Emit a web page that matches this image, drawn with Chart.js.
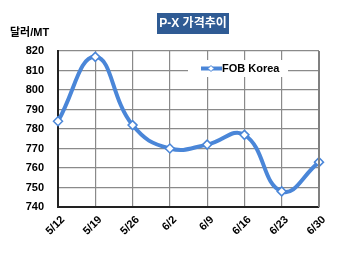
<!DOCTYPE html>
<html>
<head>
<meta charset="utf-8">
<script src="https://cdn.jsdelivr.net/npm/chart.js@4"></script>
<style>
  html, body { margin: 0; padding: 0; background: #fff; }
  #wrap { width: 350px; height: 257px; }
</style>
</head>
<body>
<div id="wrap"><canvas id="c" width="350" height="257"></canvas></div>
<script>
// 데이터
const weeks = ['5/12', '5/19', '5/26', '6/2', '6/9', '6/16', '6/23', '6/30'];
const fobKorea = [784, 817, 782, 770, 772, 777, 748, 763];
const yTicks = [740, 750, 760, 770, 780, 790, 800, 810, 820];

const lineColor = '#4a86d8';
const fontMain = 'Arial, "Liberation Sans", "Noto Sans CJK KR", sans-serif';

// 제목, 단위, 범례, x축 라벨 그리기
const decor = {
    id: 'decor',
    afterDraw(chart) {
        const ctx = chart.ctx;
        const area = chart.chartArea;
        const xs = chart.scales.x;
        ctx.save();
        // 제목 박스
        ctx.fillStyle = '#2f5b94';
        ctx.fillRect(157, 13, 72, 21);
        ctx.fillStyle = '#fff';
        ctx.font = 'bold 12px ' + fontMain;
        ctx.textAlign = 'center';
        ctx.textBaseline = 'middle';
        ctx.fillText('P-X 가격추이', 193, 24);
        // 단위
        ctx.fillStyle = '#000';
        ctx.font = 'bold 11px ' + fontMain;
        ctx.textAlign = 'left';
        ctx.fillText('달러/MT', 10, 33);
        // 범례
        ctx.fillStyle = '#fff';
        ctx.fillRect(188, 60, 100, 17);
        ctx.strokeStyle = lineColor;
        ctx.lineWidth = 4;
        ctx.beginPath();
        ctx.moveTo(201, 68.5);
        ctx.lineTo(222, 68.5);
        ctx.stroke();
        ctx.fillStyle = '#fff';
        ctx.lineWidth = 1;
        ctx.beginPath();
        ctx.moveTo(211, 65.5);
        ctx.lineTo(214, 68.5);
        ctx.lineTo(211, 71.5);
        ctx.lineTo(208, 68.5);
        ctx.closePath();
        ctx.fill();
        ctx.stroke();
        ctx.fillStyle = '#000';
        ctx.font = 'bold 11px ' + fontMain;
        ctx.fillText('FOB Korea', 222, 69);
        // 테두리
        ctx.strokeStyle = '#808080';
        ctx.lineWidth = 2;
        ctx.beginPath();
        ctx.moveTo(area.right, area.top);
        ctx.lineTo(area.right, area.bottom);
        ctx.stroke();
        // x축 라벨 (45도)
        ctx.font = 'bold 11px ' + fontMain;
        ctx.fillStyle = '#000';
        ctx.textAlign = 'right';
        ctx.textBaseline = 'middle';
        weeks.forEach((w, i) => {
            const x = xs.getPixelForTick(i);
            ctx.save();
            ctx.translate(x + 5, area.bottom + 11);
            ctx.rotate(-Math.PI / 4);
            ctx.fillText(w, 0, 0);
            ctx.restore();
        });
        ctx.restore();
    }
};

new Chart(document.getElementById('c'), {
    type: 'line',
    data: {
        labels: weeks,
        datasets: [{
            label: 'FOB Korea',
            data: fobKorea,
            borderColor: lineColor,
            borderWidth: 4,
            tension: 0.45,
            pointStyle: 'rectRot',
            pointRadius: 4.5,
            pointBackgroundColor: '#fff',
            pointBorderColor: lineColor,
            pointBorderWidth: 1.5
        }]
    },
    options: {
        responsive: false,
        animation: false,
        layout: { padding: { top: 51, right: 31, left: 0, bottom: 0 } },
        plugins: { legend: { display: false }, title: { display: false }, tooltip: { enabled: false } },
        scales: {
            x: {
                offset: false,
                afterFit(scale) { scale.height = 50; },
                grid: { color: '#8a8a8a', lineWidth: 1.2, drawTicks: false },
                border: { color: '#222', width: 2 },
                ticks: { display: false, autoSkip: false }
            },
            y: {
                min: 740, max: 820,
                afterFit(scale) { scale.width = 58; },
                afterBuildTicks(scale) { scale.ticks = yTicks.map(v => ({ value: v })); },
                grid: { color: '#8a8a8a', lineWidth: 1.2, drawTicks: false },
                border: { color: '#222', width: 2 },
                ticks: {
                    color: '#000',
                    font: { family: fontMain, size: 11, weight: 'bold' },
                    padding: 14
                }
            }
        }
    },
    plugins: [decor]
});
</script>
</body>
</html>
